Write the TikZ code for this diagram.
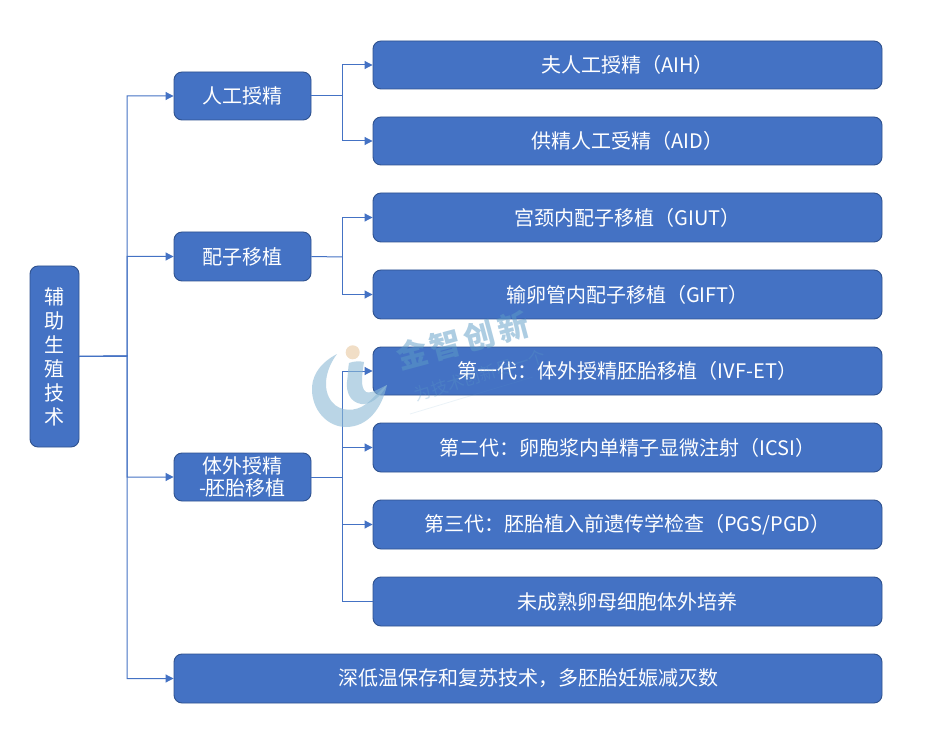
\documentclass[tikz,border=0pt]{standalone}
\usepackage{fontspec}
\setmainfont{Noto Sans CJK SC}
\usetikzlibrary{arrows.meta}
\definecolor{boxfill}{HTML}{4472C4}
\definecolor{boxline}{HTML}{2F528F}
\definecolor{wmblue}{HTML}{8DBAD6}
\definecolor{wmtext}{HTML}{5D9CC6}
\definecolor{wmball}{HTML}{E8C9A0}
\tikzset{
  bx/.style={draw=boxline,line width=0.9pt,fill=boxfill,rounded corners=8pt,text=white,align=center,inner sep=0pt,font=\fontsize{20}{21}\selectfont},
  conn/.style={draw=boxfill,line width=1pt},
  arr/.style={conn,-{Triangle[length=8pt,width=8pt]}},
  wmchar/.style={rotate=15,text=wmtext,font=\fontsize{31}{31}\selectfont\bfseries},
  wmsmall/.style={rotate=17,text=wmtext,opacity=.28,font=\fontsize{17}{17}\selectfont},
}
\newcommand{\bxat}[7]{\node[bx,minimum width=#4pt-#3pt,minimum height=#6pt-#5pt] (#1) at ({(#3+#4)/2},{(#5+#6)/2}) {#7};}
\begin{document}
\begin{tikzpicture}[x=1pt,y=-1pt]
\useasboundingbox (0,0) rectangle (929,735);
\fill[white] (0,0) rectangle (929,735);
\bxat{root}{}{30}{79}{266}{447}{辅\\[3pt]助\\[3pt]生\\[3pt]殖\\[3pt]技\\[3pt]术}
\bxat{a}{}{174}{311}{72}{120}{人工授精}
\bxat{b}{}{174}{311}{232}{281}{配子移植}
\bxat{c}{}{174}{311}{453}{501}{体外授精\\[1pt]-胚胎移植}
\bxat{a1}{}{373}{882}{41}{89}{夫人工授精（AIH）}
\bxat{a2}{}{373}{882}{117}{165}{供精人工受精（AID）}
\bxat{b1}{}{373}{882}{193}{242}{宫颈内配子移植（GIUT）}
\bxat{b2}{}{373}{882}{270}{319}{输卵管内配子移植（GIFT）}
\bxat{c1}{}{373}{882}{347}{395}{第一代：体外授精胚胎移植（IVF-ET）}
\bxat{c2}{}{373}{882}{423}{472}{第二代：卵胞浆内单精子显微注射（ICSI）}
\bxat{c3}{}{373}{882}{500}{549}{第三代：胚胎植入前遗传学检查（PGS/PGD）}
\bxat{c4}{}{373}{882}{577}{626}{未成熟卵母细胞体外培养}
\bxat{d}{}{174}{882}{654}{703}{深低温保存和复苏技术，多胚胎妊娠减灭数}
\coordinate (t) at (127,356);
\foreach \n in {a,b,c,d} \draw[arr] (root.east) -- (t) |- (\n.west);
\coordinate (ma) at (342,96);
\coordinate (mb) at (342,257);
\coordinate (mc) at (342,477);
\draw[conn] (a.east) -- (ma);
\draw[conn] (b.east) -- (mb);
\draw[conn] (c.east) -- (mc);
\foreach \n in {a1,a2} \draw[arr] (ma) |- (\n.west);
\foreach \n in {b1,b2} \draw[arr] (mb) |- (\n.west);
\foreach \n in {c1,c2,c3} \draw[arr] (mc) |- (\n.west);
\draw[conn] (mc) |- (c4.west);
% watermark logo
\begin{scope}[opacity=.6]
\fill[wmblue] (337,354) .. controls (318,364) and (311,378) .. (312,392)
  .. controls (314,414) and (330,427) .. (346,427)
  .. controls (368,427) and (382,408) .. (387,385)
  .. controls (380,390) and (374,398) .. (366,404)
  .. controls (356,412) and (340,412) .. (332,402)
  .. controls (322,390) and (325,370) .. (337,354) -- cycle;
\fill[wmblue] (349,363) .. controls (354,361) and (360,361) .. (364,362)
  .. controls (362,375) and (360,388) .. (366,392)
  .. controls (372,394) and (380,388) .. (387,385)
  .. controls (380,398) and (370,405) .. (361,404)
  .. controls (350,402) and (346,392) .. (347,382)
  .. controls (348,375) and (348,368) .. (349,363) -- cycle;
\fill[wmball] (352.7,352.3) circle (7);
\end{scope}
% watermark text
\begin{scope}[opacity=.5]
\node[wmchar] (w1) at (412,354) {金};
\node[wmchar] (w2) at (445,345) {智};
\node[wmchar] (w3) at (479,336) {创};
\node[wmchar] (w4) at (513,327) {新};
\end{scope}
\node[wmsmall] (ws) at (480,375) {为技术创新尽一个};
\coordinate (wl1) at (410,414);
\coordinate (wl2) at (533,377);
\draw[wmtext,opacity=.12,line width=.8pt] (wl1) -- (wl2);
\end{tikzpicture}
\end{document}
